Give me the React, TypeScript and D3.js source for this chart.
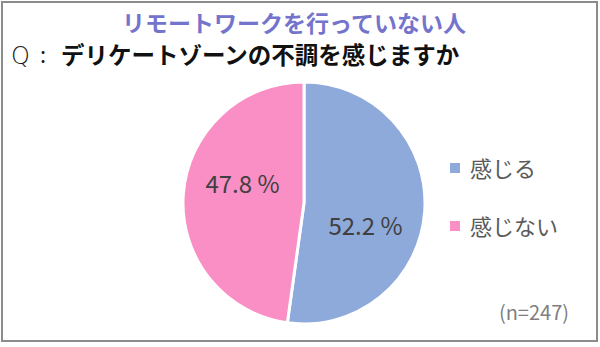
import React from "react";
import * as d3 from "d3";

const categories = ["感じる", "感じない"];
const values = [52.2, 47.8];
const colors = ["#8eaadb", "#fa8fc5"];
const title = "リモートワークを行っていない人";
const question = "デリケートゾーンの不調を感じますか";
const note = "(n=247)";

export default function App() {
  const W = 600, H = 347;
  const cx = 304, cy = 203, r = 121;
  const pie = d3.pie<number>().sort(null).value((d) => d);
  const arcs = pie(values);
  const arc = d3.arc<d3.PieArcDatum<number>>().innerRadius(0).outerRadius(r);
  const font = "'Noto Sans CJK JP', 'Noto Sans', sans-serif";
  const labelR = 65;
  const rot = 0.26;
  return (
    <svg width={W} height={H} style={{ position: "absolute", left: 0, top: 0 }} fontFamily={font}>
      <rect x={0} y={0} width={W} height={H} fill="#ffffff" />
      <rect x={2} y={2} width={595} height={339} fill="#ffffff" stroke="#8c8c8c" strokeWidth={2} />
      <text x={294} y={32} textAnchor="middle" fontSize={23} fontWeight="bold" fill="#7474cc">{title}</text>
      <text x={11} y={64} fontSize={24} fill="#1a1a1a" fontFamily="'DejaVu Sans', sans-serif" fontWeight={300}>Q</text>
      <text x={40} y={63} fontSize={22} fill="#1a1a1a">:</text>
      <text x={61} y={64} fontSize={23.5} fontWeight="bold" fill="#111">{question}</text>
      <g transform={`translate(${cx},${cy})`}>
        {arcs.map((a, i) => (
          <path key={i} d={arc(a) || ""} fill={colors[i]} stroke="#ffffff" strokeWidth={3} />
        ))}
        {arcs.map((a, i) => {
          const ang = (a.startAngle + a.endAngle) / 2 + rot;
          const lx = labelR * Math.sin(ang);
          const ly = -labelR * Math.cos(ang);
          return (
            <text key={"l" + i} x={lx} y={ly} textAnchor="middle" dominantBaseline="central" fontSize={24} fill="#404040">
              {values[i].toFixed(1)} %
            </text>
          );
        })}
      </g>
      {categories.map((c, i) => (
        <g key={c} transform={`translate(450,${167 + i * 58})`}>
          <rect x={0} y={-4} width={10} height={10} fill={colors[i]} />
          <text x={20} y={0} dominantBaseline="central" fontSize={22} fill="#595959">{c}</text>
        </g>
      ))}
      <text x={569} y={320} textAnchor="end" fontSize={20} fill="#7f7f7f">{note}</text>
    </svg>
  );
}
